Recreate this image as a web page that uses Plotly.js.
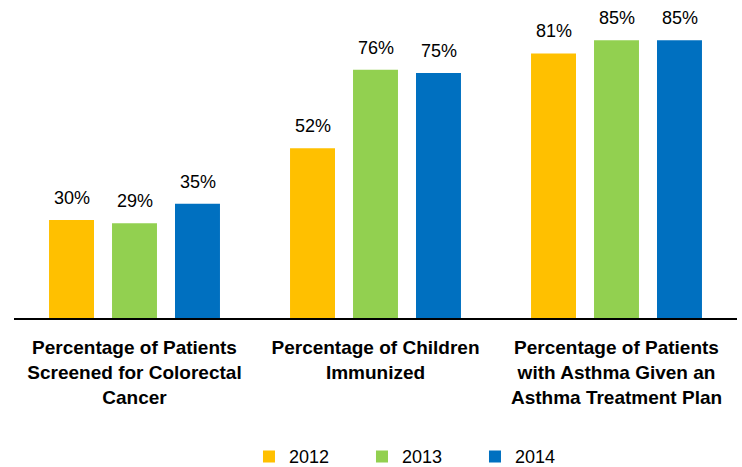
<!DOCTYPE html>
<html><head><meta charset="utf-8">
<script src="https://cdn.plot.ly/plotly-3.0.1.min.js"></script>
<style>body{margin:0;background:#fff}#c{width:742px;height:467px}</style>
</head><body><div id="c"></div>
<script>
const categories = ["Percentage of Patients<br>Screened for Colorectal<br>Cancer", "Percentage of Children<br>Immunized", "Percentage of Patients<br>with Asthma Given an<br>Asthma Treatment Plan"];
const years = ["2012", "2013", "2014"];
const v2012 = [30, 52, 81];
const v2013 = [29, 76, 85];
const v2014 = [35, 75, 85];
const colors = ["#FFC000", "#92D050", "#0070C0"];
const series = [v2012, v2013, v2014];
const font = "Liberation Sans, Arial, sans-serif";
const traces = series.map((vals, i) => ({
  type: "bar", name: years[i], x: categories, y: vals,
  marker: {color: colors[i]},
  cliponaxis: false, hoverinfo: "none"
}));
const slotPx = 63;
const annotations = [];
series.forEach((vals, i) => vals.forEach((v, j) => annotations.push({
  x: categories[j], y: v, xref: "x", yref: "y", text: v + "%", showarrow: false,
  xanchor: "center", yanchor: "bottom", xshift: (i - 1) * slotPx, yshift: 10,
  font: {family: font, size: 18, color: "#000"}
})));
const layout = {
  width: 742, height: 467,
  margin: {l: 14, r: 5, t: 24, b: 149},
  paper_bgcolor: "#fff", plot_bgcolor: "#fff",
  barmode: "group", bargap: 0.216, bargroupgap: 0.286,
  xaxis: {showline: true, linecolor: "#000", linewidth: 1.5, ticks: "", automargin: false,
    ticklabelstandoff: 12,
    tickfont: {family: font, size: 19, color: "#000", weight: "bold"}, fixedrange: true},
  yaxis: {range: [0, 90], visible: false, showgrid: false, zeroline: false, fixedrange: true, automargin: false},
  annotations: annotations,
  showlegend: true,
  legend: {orientation: "h", x: 0.564, xanchor: "center", xref: "container", y: 0.022, yanchor: "middle", yref: "container",
    font: {family: font, size: 18, color: "#000"}, entrywidth: 68, itemwidth: 30},
  font: {family: font}
};
Plotly.newPlot("c", traces, layout, {displayModeBar: false, staticPlot: true});
</script></body></html>
